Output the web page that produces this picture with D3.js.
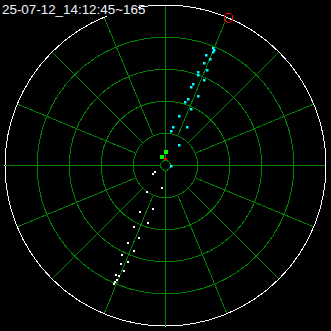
<!DOCTYPE html>
<html>
<head>
<meta charset="utf-8">
<script src="https://cdn.jsdelivr.net/npm/d3@7"></script>
<style>
  html, body { margin: 0; padding: 0; background: #000; }
  svg { display: block; }
</style>
</head>
<body>
<svg width="331" height="331"></svg>
<script>
// title of the scan
var title = "25-07-12_14:12:45~165";

// range rings and spokes
var rings = [1, 2, 3, 4];
var rangeMax = 5;
var spokes = d3.range(0, 360, 22.5);

// track A (cyan), azimuth in degrees clockwise from north, range in ring units
var cyanAz = [21.9, 23.1, 23.0, 20.3, 22.9, 20.6, 23.9, 19.4, 20.1, 24.6, 19.0,
              18.2, 18.5, 25.5, 17.5, 24.9, 16.0, 11.9, 30.1, 10.0, 35.0, 99.5];
var cyanRange = [3.95, 3.89, 3.83, 3.65, 3.58, 3.40, 3.24, 3.09, 2.99, 2.91, 2.68,
                 2.56, 2.19, 2.39, 2.07, 1.92, 1.58, 1.21, 1.37, 1.07, 0.76, 0.19];

// track B (white)
var whiteAz = [238.7, 234.7, 188.3, 214.4, 195.4, 208.6, 196.4, 206.8, 199.8, 205.6,
               200.0, 205.7, 201.1, 204.1, 201.3, 204.3, 202.8, 203.1, 203.2, 203.3];
var whiteRange = [0.40, 0.47, 0.71, 1.01, 1.41, 1.65, 1.88, 2.15, 2.41, 2.69,
                  2.84, 3.10, 3.23, 3.37, 3.54, 3.73, 3.74, 3.88, 3.96, 4.02];

// near-origin markers
var greenAz = [0, 338.3];
var greenRange = [0.42, 0.30];
var redAz = [0];
var redRange = [0.20];

// heading marker on the outer circle
var headingAz = 23.1;

var svg = d3.select("svg"),
    width = +svg.attr("width"),
    height = +svg.attr("height"),
    cx = 165.5,
    cy = 165.5;

svg.append("rect").attr("width", width).attr("height", height).attr("fill", "#000");

var r = d3.scaleLinear().domain([0, rangeMax]).range([0, 160.5]);
var a = d3.scaleLinear().domain([0, 360]).range([0, 2 * Math.PI]);

function px(az, rng) { return cx + r(rng) * Math.sin(a(az)); }
function py(az, rng) { return cy - r(rng) * Math.cos(a(az)); }

var g = svg.append("g").attr("shape-rendering", "crispEdges");
var grid = "#008000";

g.selectAll("circle.ring")
    .data(rings)
  .enter().append("circle")
    .attr("class", "ring")
    .attr("cx", cx).attr("cy", cy)
    .attr("r", function(d) { return r(d); })
    .attr("fill", "none")
    .attr("stroke", grid);

g.append("circle")
    .attr("cx", cx).attr("cy", cy).attr("r", 5)
    .attr("fill", "none").attr("stroke", grid);

// axis spokes run in to the small centre circle, the others stop at the first ring
g.selectAll("line.spoke")
    .data(spokes)
  .enter().append("line")
    .attr("class", "spoke")
    .attr("x1", function(d) { return d % 90 === 0 ? cx + 5 * Math.sin(a(d)) : px(d, 1); })
    .attr("y1", function(d) { return d % 90 === 0 ? cy - 5 * Math.cos(a(d)) : py(d, 1); })
    .attr("x2", function(d) { return px(d, rangeMax); })
    .attr("y2", function(d) { return py(d, rangeMax); })
    .attr("stroke", grid);

g.append("circle")
    .attr("cx", cx).attr("cy", cy).attr("r", r(rangeMax))
    .attr("fill", "none").attr("stroke", "#fff");

function dots(az, rng, color, size) {
  svg.append("g").selectAll("rect")
      .data(d3.range(az.length))
    .enter().append("rect")
      .attr("x", function(i) { return Math.round(px(az[i], rng[i]) - size / 2); })
      .attr("y", function(i) { return Math.round(py(az[i], rng[i]) - size / 2); })
      .attr("width", size)
      .attr("height", size)
      .attr("fill", color);
}

dots(cyanAz, cyanRange, "#00ffff", 2.5);
dots(whiteAz, whiteRange, "#ffffff", 2);
dots(greenAz, greenRange, "#00ff00", 4);

svg.append("g").selectAll("rect")
    .data(d3.range(redAz.length))
  .enter().append("rect")
    .attr("x", function(i) { return Math.round(px(redAz[i], redRange[i]) - 1.5); })
    .attr("y", function(i) { return Math.round(py(redAz[i], redRange[i]) - 1); })
    .attr("width", 3).attr("height", 2)
    .attr("fill", "#ff0000");

svg.append("circle")
    .attr("cx", px(headingAz, rangeMax))
    .attr("cy", py(headingAz, rangeMax))
    .attr("r", 4.5)
    .attr("fill", "none")
    .attr("stroke", "#ff0000")
    .attr("shape-rendering", "crispEdges");

// title sits on a black box that hides the ring behind it
svg.append("rect").attr("x", 0).attr("y", 0).attr("width", 138).attr("height", 16).attr("fill", "#000");
svg.append("text")
    .attr("x", 2).attr("y", 13.5)
    .attr("fill", "#eef4ff")
    .attr("font-family", "Liberation Sans, Arial, sans-serif")
    .attr("font-size", "13.4px")
    .text(title);
</script>
</body>
</html>
